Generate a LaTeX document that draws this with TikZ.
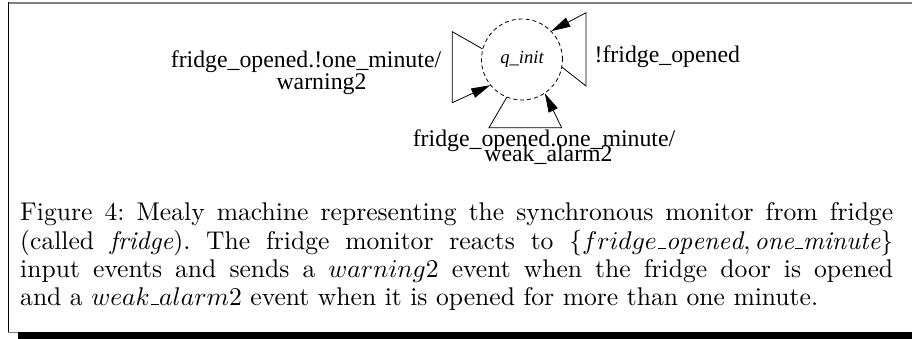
\documentclass[tikz,border=0pt]{standalone}
\usepackage{fontspec}
\usepackage{graphicx}
\usetikzlibrary{arrows.meta}
\newfontfamily\timesfont{Liberation Serif}
\newcommand\usc{\leavevmode\kern.06em\vbox{\hrule width.3em}}
\begin{document}
\begin{tikzpicture}[x=1pt,y=1pt,
  lbl/.style={font=\timesfont\fontsize{23.8}{26}\selectfont, inner sep=0pt},
  statenode/.style={circle, draw, dashed, dash pattern=on 4pt off 3pt, line width=0.8pt,
    minimum size=81pt, inner sep=0pt, font=\timesfont\itshape\fontsize{18.6}{20}\selectfont},
  loopedge/.style={line width=0.8pt, -{Triangle[length=19pt,width=10pt]}}]
\useasboundingbox (0,0) rectangle (912,339);
% shadow-box frame
\draw[gray, line width=1.6pt] (7.7,336) -- (912,336);
\draw[black, line width=1pt] (8.2,336.5) -- (8.2,6);
\draw[gray, line width=1pt] (8.2,6.2) -- (18.3,6.2);
\fill[black] (18.3,0) rectangle (912,6.5);
% state
\node[statenode] (q) at (522,279.5) {q\_init};
% loop corners
\coordinate (lc1) at (452.3,307.3);
\coordinate (lc2) at (452.3,236.3);
\coordinate (rc1) at (586,253);
\coordinate (rc2) at (586,326.3);
\coordinate (bc1) at (489,211.3);
\coordinate (bc2) at (561.7,211.3);
\draw[loopedge] (q.165.5) -- (lc1) -- (lc2) -- (q.219.8);
\draw[loopedge] (q.-11.7) -- (rc1) -- (rc2) -- (q.44.8);
\draw[loopedge] (q.248) -- (bc1) -- (bc2) -- (q.304.7);
% labels
\node[lbl, anchor=base] (l1) at (306,271) {fridge\_opened.!one\_minute/};
\node[lbl, anchor=base] (l2) at (321.5,249) {warning2};
\node[lbl, anchor=base west] (r1) at (594.4,276.3) {!fridge\_opened};
\node[lbl, anchor=base] (b1) at (544,192.3) {fridge\_opened.one\_minute/};
\node[lbl, anchor=base] (b2) at (548.5,177.3) {weak\_alarm2};
% caption
\node[anchor=base west, inner sep=0pt] (cap) at (20,118) {\scalebox{2.56}{\parbox[t]{341pt}{\fontsize{10}{10.94}\selectfont\frenchspacing\hyphenpenalty=10000
Figure 4: Mealy machine representing the synchronous monitor from fridge\linebreak
(called \textit{fridge}). The fridge monitor reacts to $\{fridge\usc\mathit{opened}, \mathit{one\usc minute}\}$\linebreak
input events and sends a $warning2$ event when the fridge door is opened\linebreak
and a $weak\usc alarm2$ event when it is opened for more than one minute.}}};
\end{tikzpicture}
\end{document}
